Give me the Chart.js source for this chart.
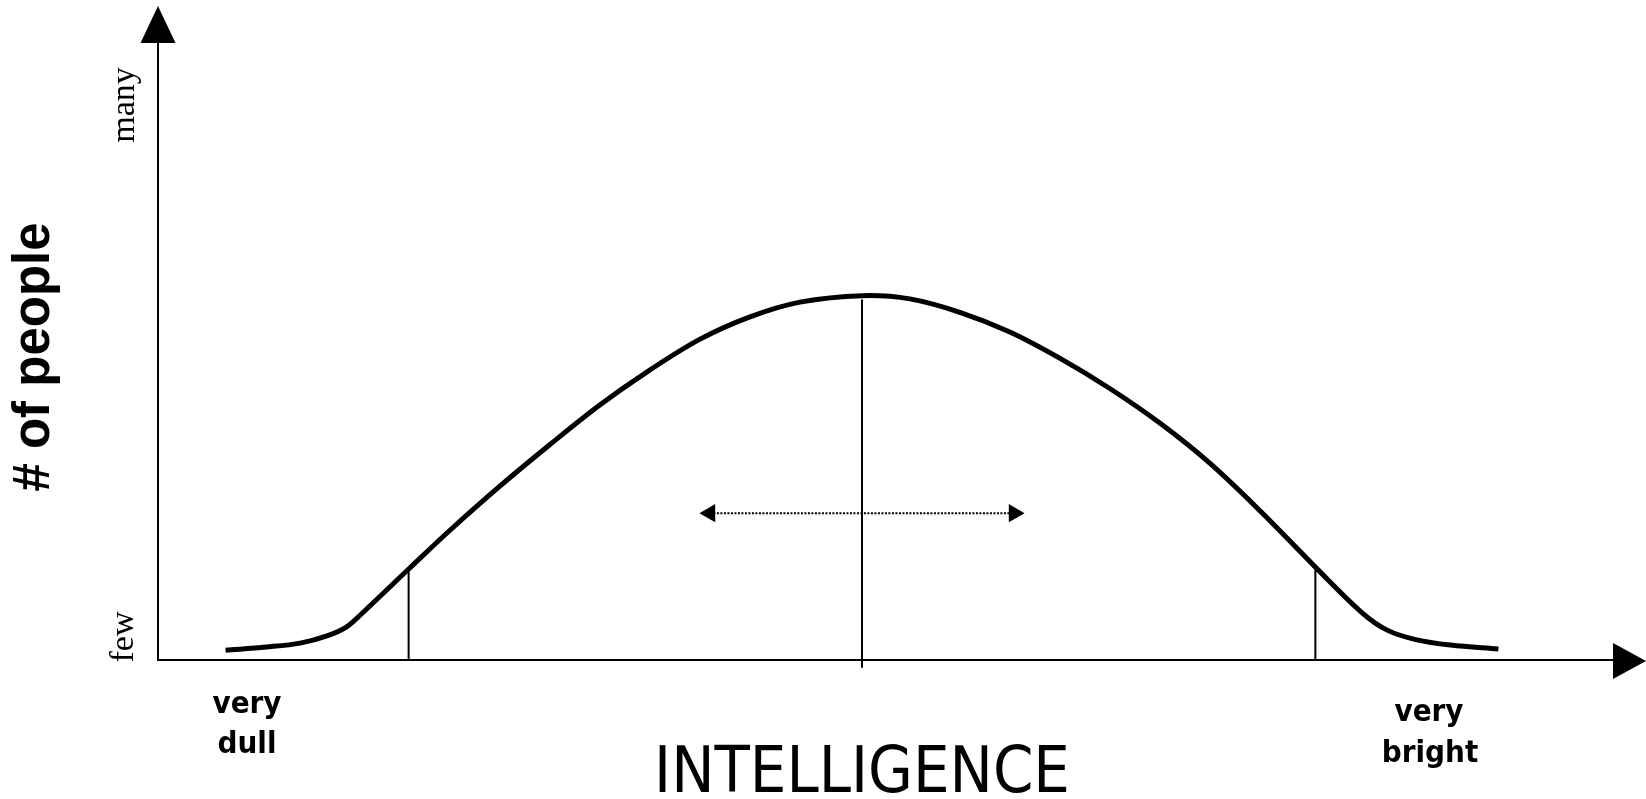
<!DOCTYPE html>
<html>
<head>
<meta charset="utf-8">
<script src="https://cdn.jsdelivr.net/npm/chart.js@4"></script>
<style>
  html, body { margin: 0; padding: 0; background: #fff; }
  canvas { display: block; }
</style>
</head>
<body>
<canvas id="bellChart" width="1646" height="799"></canvas>
<script>
// curve (x: intelligence 0-100, mean at 50; y: people 0-100)
const curveX = [4.8, 7.7, 10.1, 12.0, 13.4, 14.5, 17.9, 20.7, 24.3, 27.8, 31.4, 34.9, 38.5, 42.0, 45.6, 50.0,
                53.4, 57.0, 60.5, 64.1, 67.6, 71.2, 74.7, 78.3, 82.2, 85.5, 87.3, 89.4, 91.8, 95.2];
const curveY = [1.5, 2.0, 2.6, 3.7, 5.1, 7.2, 14.2, 19.9, 26.8, 33.1, 39.3, 44.6, 49.4, 52.8, 55.1, 56.1,
                55.6, 53.5, 50.5, 46.4, 41.8, 36.4, 30.3, 22.9, 14.3, 7.3, 4.6, 3.1, 2.3, 1.7];

// vertical marks
const markerX = [17.8, 82.2];
const markerTop = [13.8, 14.1];
const meanX = 50;
const meanTop = 55.5;
const meanBottom = -1.2;

// dotted double arrow
const spreadX = [39.2, 60.8];
const spreadY = 22.6;

// texts
const yLabels = ['few', 'many'];
const yTitle = '# of people';
const xTitle = 'INTELLIGENCE';
const xEnds = [['very', 'dull'], ['very', 'bright']];

const curveData = curveX.map((x, i) => ({ x: x, y: curveY[i] }));

function drawScaled(ctx, text, x, y, sx) {
    ctx.save();
    ctx.translate(x, y);
    ctx.scale(sx, 1);
    ctx.fillText(text, 0, 0);
    ctx.restore();
}

const axesPlugin = {
    id: 'axesPlugin',
    beforeDatasetsDraw(chart) {
        const ctx = chart.ctx;
        const xs = chart.scales.x, ys = chart.scales.y;
        const x0 = xs.getPixelForValue(0);
        const y0 = ys.getPixelForValue(0);
        ctx.save();
        ctx.strokeStyle = '#000';
        ctx.fillStyle = '#000';
        ctx.lineWidth = 2;
        // y axis + arrow
        ctx.beginPath();
        ctx.moveTo(x0, y0 + 1);
        ctx.lineTo(x0, 40);
        ctx.stroke();
        ctx.beginPath();
        ctx.moveTo(x0, 6);
        ctx.lineTo(x0 + 17.5, 43);
        ctx.lineTo(x0 - 17.5, 43);
        ctx.closePath();
        ctx.fill();
        // x axis + arrow
        ctx.beginPath();
        ctx.moveTo(x0 - 1, y0);
        ctx.lineTo(1616, y0);
        ctx.stroke();
        ctx.beginPath();
        ctx.moveTo(1646, y0 + 1);
        ctx.lineTo(1613, y0 - 17);
        ctx.lineTo(1613, y0 + 19);
        ctx.closePath();
        ctx.fill();
        ctx.restore();
    },
    afterDraw(chart) {
        const ctx = chart.ctx;
        const xs = chart.scales.x;
        const mid = xs.getPixelForValue(meanX);
        ctx.save();
        ctx.fillStyle = '#000';
        ctx.textAlign = 'center';
        ctx.textBaseline = 'alphabetic';

        // few / many
        ctx.font = '34px "Liberation Serif", "Times New Roman", serif';
        ctx.save();
        ctx.translate(133, 637);
        ctx.rotate(-Math.PI / 2);
        ctx.fillText(yLabels[0], 0, 0);
        ctx.restore();
        ctx.save();
        ctx.translate(134, 105);
        ctx.rotate(-Math.PI / 2);
        ctx.fillText(yLabels[1], 0, 0);
        ctx.restore();

        // y title
        ctx.font = 'bold 51px "Liberation Sans", Arial, sans-serif';
        ctx.save();
        ctx.translate(49, 357);
        ctx.rotate(-Math.PI / 2);
        ctx.fillText(yTitle, 0, 0);
        ctx.restore();

        // very dull / very bright
        ctx.font = 'bold 31px "DejaVu Sans", Verdana, sans-serif';
        drawScaled(ctx, xEnds[0][0], 247, 713, 0.9);
        drawScaled(ctx, xEnds[0][1], 247, 753, 0.9);
        drawScaled(ctx, xEnds[1][0], 1429, 721, 0.9);
        drawScaled(ctx, xEnds[1][1], 1430, 762, 0.9);

        // x title
        ctx.font = '64px "DejaVu Sans", Verdana, sans-serif';
        drawScaled(ctx, xTitle, mid, 792, 0.905);
        ctx.restore();
    }
};

const ctx = document.getElementById('bellChart').getContext('2d');
const bellChart = new Chart(ctx, {
    type: 'line',
    data: {
        datasets: [
            {
                label: 'distribution',
                data: curveData,
                borderColor: '#000',
                borderWidth: 5,
                pointRadius: 0,
                tension: 0.35,
                clip: false
            },
            {
                label: 'mean',
                data: [{ x: meanX, y: meanBottom }, { x: meanX, y: meanTop }],
                borderColor: '#000',
                borderWidth: 2,
                pointRadius: 0,
                clip: false
            },
            {
                label: 'low mark',
                data: [{ x: markerX[0], y: 0 }, { x: markerX[0], y: markerTop[0] }],
                borderColor: '#000',
                borderWidth: 2,
                pointRadius: 0,
                clip: false
            },
            {
                label: 'high mark',
                data: [{ x: markerX[1], y: 0 }, { x: markerX[1], y: markerTop[1] }],
                borderColor: '#000',
                borderWidth: 2,
                pointRadius: 0,
                clip: false
            },
            {
                label: 'spread',
                data: [{ x: spreadX[0], y: spreadY }, { x: spreadX[1], y: spreadY }],
                borderColor: '#000',
                borderWidth: 2,
                borderDash: [2, 1.5],
                pointStyle: 'triangle',
                pointRadius: 10.5,
                pointBorderWidth: 0,
                pointBackgroundColor: '#000',
                pointRotation: [-90, 90],
                clip: false
            }
        ]
    },
    options: {
        responsive: false,
        animation: false,
        layout: { padding: { left: 158, right: 80, top: 6, bottom: 139 } },
        plugins: {
            legend: { display: false },
            tooltip: { enabled: false }
        },
        scales: {
            x: { type: 'linear', min: 0, max: 100, display: false },
            y: { type: 'linear', min: 0, max: 100, display: false }
        }
    },
    plugins: [axesPlugin]
});

console.log('bell curve drawn');
</script>
</body>
</html>
